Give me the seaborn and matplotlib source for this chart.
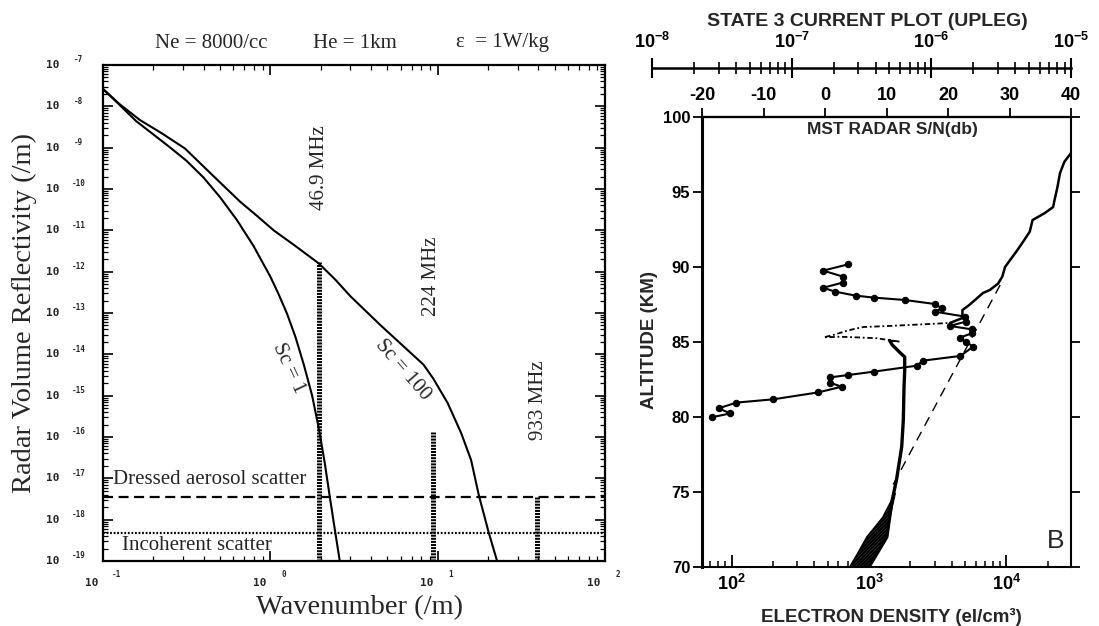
import numpy as np
import matplotlib
matplotlib.use("Agg")
import matplotlib.pyplot as plt
import seaborn as sns
from matplotlib.ticker import LogLocator, NullFormatter, FixedLocator, FixedFormatter

# ---------------- Left panel data ----------------
sc1_k = [0.1, 0.126, 0.158, 0.2, 0.251, 0.316, 0.398, 0.501, 0.631, 0.794, 1.0, 1.122,
         1.259, 1.413, 1.585, 1.778, 1.95, 2.113, 2.265, 2.427, 2.6]
sc1_r = [2.63e-8, 1.07e-8, 4.37e-9, 2.09e-9, 1.02e-9, 4.79e-10, 1.91e-10, 6.31e-11,
         1.78e-11, 4.17e-12, 7.59e-13, 2.82e-13, 9.55e-14, 2.63e-14, 5.62e-15, 1.0e-15,
         1.58e-16, 2.4e-17, 3.63e-18, 5.89e-19, 1.0e-19]
sc100_k = [0.1, 0.126, 0.166, 0.224, 0.309, 0.447, 0.661, 0.832, 1.047, 1.413, 1.95,
           2.455, 3.02, 3.715, 4.57, 6.31, 8.24, 9.46, 11.48, 13.8, 15.85, 17.62, 20.18, 22.65]
sc100_r = [2.63e-8, 1.12e-8, 4.68e-9, 2.24e-9, 9.55e-10, 2.24e-10, 4.9e-11, 2.24e-11,
           1.0e-11, 4.17e-12, 1.58e-12, 6.31e-13, 2.51e-13, 1.12e-13, 5.0e-14, 1.51e-14,
           5.6e-15, 2.51e-15, 6.6e-16, 1.26e-16, 2.75e-17, 3.9e-18, 4.9e-19, 1.0e-19]
radar_labels = ["46.9 MHz", "224 MHz", "933 MHz"]
radar_k = [1.96, 9.4, 39.3]
radar_top = [1.7e-12, 1.3e-16, 3.6e-18]
aerosol_level = 3.6e-18
incoherent_level = 4.7e-19
left_exponents = list(range(-19, -6))
x_exponents = [-1, 0, 1, 2]

# ---------------- Right panel data ----------------
dens_low_alt = [70.0, 72.0, 73.3, 74.5, 75.8, 78.0, 79.8, 82.0, 83.1, 84.0, 84.3, 84.8, 85.1]
dens_low = [1000, 1349, 1413, 1479, 1585, 1730, 1778, 1799, 1820, 1820, 1679, 1479, 1413]
band_alt = [70.0, 71.0, 72.0, 73.3, 74.9]
band_left = [725, 840, 966, 1259, 1549]
band_right = [1000, 1170, 1349, 1413, 1549]
bite_alt = [85.1, 85.02, 85.25, 85.31, 85.35, 85.31, 85.47, 85.8, 86.0, 86.07, 86.2, 86.27]
bite_dens = [1413, 1680, 1138, 813, 617, 468, 550, 724, 912, 1413, 2754, 3890]
dens_up_alt = [86.27, 86.6, 87.13, 87.47, 88.27, 88.47, 88.9, 89.36, 90.0, 91.13, 91.8,
               92.36, 93.13, 93.6, 94.0, 94.47, 95.27, 96.27, 97.02, 97.67]
dens_up = [3890, 4786, 4786, 5370, 6761, 7586, 8710, 9333, 9772, 12020, 13490, 14790,
           15490, 19050, 21880, 22390, 23440, 24550, 26420, 29920]
fit_alt = [75.5, 89.2]
fit_dens = [1500, 9500]
sn_alt = [90.18, 89.76, 89.36, 88.96, 88.62, 88.36, 88.09, 87.96, 87.8, 87.53, 87.24,
          87.02, 86.69, 86.36, 86.07, 85.84, 85.58, 85.29, 85.02, 84.69, 84.07, 83.76,
          83.42, 83.02, 82.8, 82.64, 82.29, 82.02, 81.64, 81.18, 80.96, 80.58, 80.24, 79.98]
sn_db = [3.8, -0.3, 2.9, 2.9, -0.3, 1.6, 5.0, 7.9, 13.0, 17.9, 19.0, 17.9, 22.8, 22.9,
         20.3, 23.9, 23.9, 21.9, 22.9, 24.1, 22.0, 16.0, 14.9, 7.9, 3.8, 0.8, 0.8, 2.7,
         -1.1, -8.4, -14.4, -17.3, -15.4, -18.4]
alt_ticks = [70, 75, 80, 85, 90, 95, 100]
sn_ticks = [-20, -10, 0, 10, 20, 30, 40]
sn_ticklabels = ["-20", "-10", "0", "10", "20", "30", "40"]
dens_ticks = [1e2, 1e3, 1e4]
dens_ticklabels = [r"$\mathbf{10^{2}}$", r"$\mathbf{10^{3}}$", r"$\mathbf{10^{4}}$"]
cur_ticks = [1e-8, 1e-7, 1e-6, 1e-5]
cur_ticklabels = [r"$\mathbf{10^{-8}}$", r"$\mathbf{10^{-7}}$", r"$\mathbf{10^{-6}}$", r"$\mathbf{10^{-5}}$"]

sns.set_theme(style="ticks")
plt.rcParams["font.family"] = ["Liberation Serif", "DejaVu Serif"]
plt.rcParams["mathtext.fontset"] = "custom"
plt.rcParams["mathtext.bf"] = "Liberation Sans:bold"
plt.rcParams["mathtext.rm"] = "Liberation Sans"
plt.rcParams["hatch.linewidth"] = 1.6
plt.rcParams["axes.edgecolor"] = "black"

W, H = 1099, 626
fig = plt.figure(figsize=(W / 100, H / 100), dpi=100)

def fx(px):
    return px / W

def fy(py):
    return 1 - py / H

# ================= LEFT PANEL =================
ax1 = fig.add_axes([fx(103), fy(561), fx(605) - fx(103), fy(65) - fy(561)])
ax1.set_xscale("log")
ax1.set_yscale("log")
ax1.set_xlim(0.1, 100)
ax1.set_ylim(1e-19, 1e-7)

sns.lineplot(x=sc1_k, y=sc1_r, ax=ax1, color="black", lw=1.5, sort=False,
             estimator=None, legend=False)
sns.lineplot(x=sc100_k, y=sc100_r, ax=ax1, color="black", lw=1.5, sort=False,
             estimator=None, legend=False)
ax1.vlines(radar_k, ax1.get_ylim()[0], radar_top, colors="black", lw=3.6,
           linestyles=[(0, (0.4, 0.22))])
ax1.axhline(aerosol_level, color="black", lw=1.6, ls=(0, (4.5, 2.5)))
ax1.axhline(incoherent_level, color="black", lw=1.6, ls=(0, (0.8, 0.8)))

serif = ["Liberation Serif", "DejaVu Serif"]
ax1.text(1.28, 10 ** -14.34, "Sc = 1", rotation=-65, rotation_mode="anchor",
         ha="center", va="center", fontsize=15, family=serif)
ax1.text(6.17, 10 ** -14.38, "Sc = 100", rotation=-49, rotation_mode="anchor",
         ha="center", va="center", fontsize=15, family=serif)
label_pos = [(1.96, 10 ** -9.49), (9.2, 10 ** -12.11), (40.3, 10 ** -15.11)]
for lab, (kx, ry) in zip(radar_labels, label_pos):
    ax1.text(kx, ry, lab, rotation=90, ha="center", va="center", fontsize=15, family=serif)
ax1.text(0.115, 10 ** -17.02, "Dressed aerosol scatter", ha="left", va="center",
         fontsize=15, family=serif)
ax1.text(0.13, 10 ** -18.62, "Incoherent scatter", ha="left", va="center",
         fontsize=15, family=serif)

ax1.xaxis.set_major_locator(LogLocator(base=10, numticks=20))
ax1.xaxis.set_minor_locator(LogLocator(base=10, subs=np.arange(2, 10), numticks=20))
ax1.yaxis.set_major_locator(LogLocator(base=10, numticks=40))
ax1.yaxis.set_minor_locator(LogLocator(base=10, subs=np.arange(2, 10), numticks=40))
ax1.xaxis.set_minor_formatter(NullFormatter())
ax1.yaxis.set_minor_formatter(NullFormatter())
ax1.tick_params(which="both", direction="in", top=True, right=True,
                labelbottom=False, labelleft=False, colors="black")
ax1.tick_params(which="major", length=7, width=1.2)
ax1.tick_params(which="minor", length=3.5, width=0.9)
for s in ax1.spines.values():
    s.set_linewidth(1.6)
    s.set_color("black")

mono = ["DejaVu Sans Mono"]
for e in left_exponents:
    ax1.annotate("10", xy=(0, 10.0 ** e), xycoords=("axes fraction", "data"),
                 xytext=(-36.4, 0), textcoords="offset points", ha="center", va="center",
                 fontsize=8, family=mono, weight="bold")
    ax1.annotate(f"{e}", xy=(0, 10.0 ** e), xycoords=("axes fraction", "data"),
                 xytext=(-17.6, 3.8), textcoords="offset points", ha="center", va="center",
                 fontsize=5.5, family=mono, weight="bold")
for e in x_exponents:
    ax1.annotate("10", xy=(10.0 ** e, 0), xycoords=("data", "axes fraction"),
                 xytext=(-7.9, -15.8), textcoords="offset points", ha="center", va="center",
                 fontsize=8, family=mono, weight="bold")
    ax1.annotate(f"{e}", xy=(10.0 ** e, 0), xycoords=("data", "axes fraction"),
                 xytext=(9.4, -9.4), textcoords="offset points", ha="center", va="center",
                 fontsize=5.5, family=mono, weight="bold")

fig.text(fx(24), fy(313), "Radar Volume Reflectivity (/m)", rotation=90, ha="center",
         va="center", fontsize=20.5, family=serif)
fig.text(fx(360), fy(608), "Wavenumber (/m)", ha="center", va="center", fontsize=20.5,
         family=serif)
fig.text(fx(211), fy(43), "Ne = 8000/cc", ha="center", va="center", fontsize=15, family=serif)
fig.text(fx(355), fy(43), "He = 1km", ha="center", va="center", fontsize=15, family=serif)
fig.text(fx(502), fy(43), "\u03b5  = 1W/kg", ha="center", va="center", fontsize=15, family=serif)

# ================= RIGHT PANEL =================
sans = ["Liberation Sans", "DejaVu Sans"]
ax2 = fig.add_axes([fx(702), fy(567), fx(1071) - fx(702), fy(117) - fy(567)])
ax2.set_xscale("log")
ax2.set_xlim(61, 29500)
ax2.set_ylim(70, 100)

ax2.fill_betweenx(band_alt, band_left, band_right, facecolor="#d0d0d0", edgecolor="black",
                  hatch="//////////", lw=1.2)
sns.lineplot(x=dens_low, y=dens_low_alt, ax=ax2, color="black", lw=2.4, sort=False,
             estimator=None, legend=False)
sns.lineplot(x=bite_dens, y=bite_alt, ax=ax2, color="black", lw=1.3, sort=False,
             estimator=None, legend=False, ls=(0, (3, 1.5, 1, 1.5)))
sns.lineplot(x=dens_up, y=dens_up_alt, ax=ax2, color="black", lw=1.8, sort=False,
             estimator=None, legend=False)
sns.lineplot(x=fit_dens, y=fit_alt, ax=ax2, color="black", lw=1.0, sort=False,
             estimator=None, legend=False, ls=(0, (7, 5)))

ax2.set_yticks(alt_ticks)
ax2.set_yticklabels([str(a) for a in alt_ticks], fontsize=12, weight="bold", family=sans)
ax2.tick_params(axis="y", direction="out", length=6.5, width=1.3, left=True, right=True,
                labelright=False, pad=2, colors="black")
ax2.xaxis.set_major_locator(FixedLocator(dens_ticks))
ax2.xaxis.set_major_formatter(FixedFormatter(dens_ticklabels))
ax2.xaxis.set_minor_locator(LogLocator(base=10, subs=np.arange(2, 10), numticks=20))
ax2.xaxis.set_minor_formatter(NullFormatter())
ax2.tick_params(axis="x", which="major", direction="in", length=8.5, width=1.3,
                labelsize=13, pad=5, colors="black")
ax2.tick_params(axis="x", which="minor", direction="in", length=4, width=1.1, colors="black")
ax2.set_xlabel("")
ax2.set_ylabel("")
for s in ax2.spines.values():
    s.set_linewidth(1.5)
    s.set_color("black")
ax2.spines["left"].set_linewidth(2.2)

ax_sn = ax2.twiny()
ax_sn.set_xlim(-20, 40)
sns.lineplot(x=sn_db, y=sn_alt, ax=ax_sn, color="black", lw=1.5, sort=False,
             estimator=None, legend=False, marker="o", markersize=4.6,
             markeredgecolor="black", markerfacecolor="black")
ax_sn.set_xticks(sn_ticks)
ax_sn.set_xticklabels(sn_ticklabels, fontsize=13, weight="bold", family=sans)
ax_sn.tick_params(axis="x", direction="out", length=6.5, width=1.3, top=True,
                  bottom=False, labeltop=True, labelbottom=False, pad=3, colors="black")
ax_sn.set_xlabel("")
ax_sn.set_ylabel("")
for side in ["left", "right", "bottom"]:
    ax_sn.spines[side].set_visible(False)
ax_sn.spines["top"].set_linewidth(1.6)
ax_sn.spines["top"].set_color("black")
ax2.set_ylim(70, 100)

ax2.text(0.515, 0.988, "MST RADAR S/N(db)", transform=ax2.transAxes, ha="center",
         va="top", fontsize=12.5, weight="bold", family=sans)
ax2.text(0.957, 0.058, "B", transform=ax2.transAxes, ha="center", va="center",
         fontsize=19, family=sans)

# current scale on top
ax_cur = fig.add_axes([fx(652), fy(68), fx(1071) - fx(652), 0.0005])
ax_cur.set_xscale("log")
ax_cur.set_xlim(1e-8, 1e-5)
ax_cur.set_yticks([])
ax_cur.patch.set_alpha(0)
for side in ["left", "right", "top"]:
    ax_cur.spines[side].set_visible(False)
ax_cur.spines["bottom"].set_linewidth(1.8)
ax_cur.spines["bottom"].set_color("black")
ax_cur.xaxis.set_major_locator(FixedLocator(cur_ticks))
ax_cur.xaxis.set_major_formatter(FixedFormatter(cur_ticklabels))
ax_cur.xaxis.set_minor_locator(LogLocator(base=10, subs=np.arange(2, 10), numticks=20))
ax_cur.xaxis.set_minor_formatter(NullFormatter())
ax_cur.tick_params(axis="x", which="both", direction="inout", bottom=True, top=False,
                   labelbottom=False, labeltop=True, colors="black")
ax_cur.tick_params(axis="x", which="major", length=14, width=1.5, labelsize=13, pad=4)
ax_cur.tick_params(axis="x", which="minor", length=9, width=1.2)

fig.text(fx(867), fy(22), "STATE 3 CURRENT PLOT (UPLEG)", ha="center", va="center",
         fontsize=14, weight="bold", family=sans)
fig.text(fx(650), fy(340), "ALTITUDE (KM)", rotation=90, ha="center", va="center",
         fontsize=13.5, weight="bold", family=sans)
fig.text(fx(891), fy(617), "ELECTRON DENSITY (el/cm\u00b3)", ha="center", va="center",
         fontsize=13.5, weight="bold", family=sans)

fig.savefig("out.png", dpi=100, facecolor="white")
